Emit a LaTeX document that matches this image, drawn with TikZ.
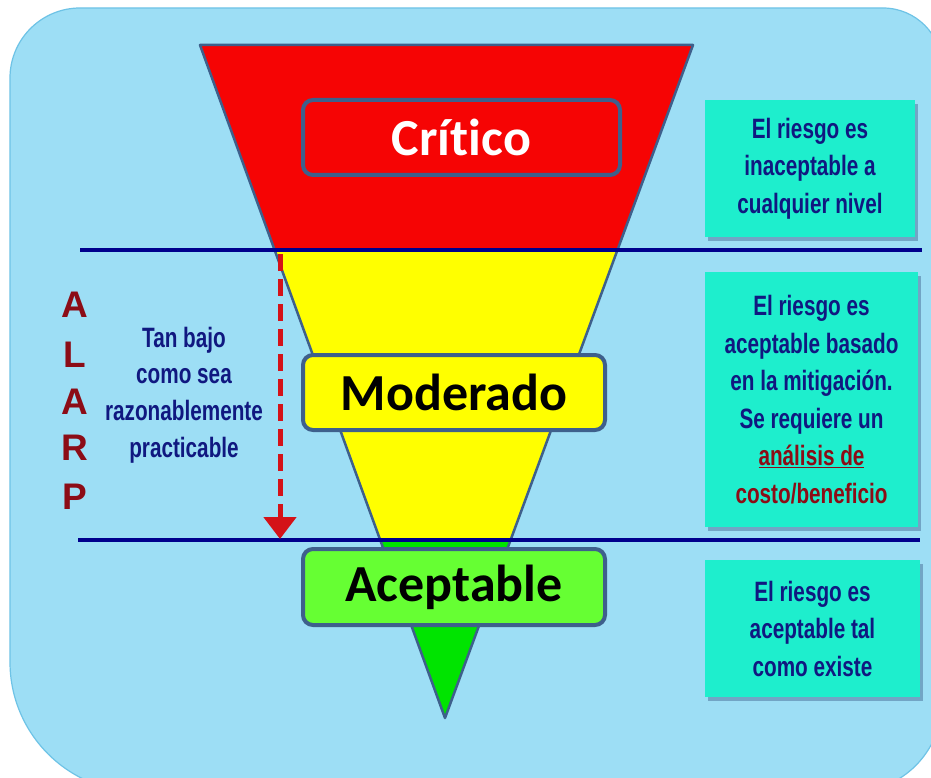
\documentclass[tikz,border=0pt]{standalone}
\usepackage{fontspec}
\setmainfont{Carlito}[Ligatures={NoCommon}]
\newfontfamily\narrowfont[FakeStretch=0.74]{Liberation Sans}
\newfontfamily\alarpfont{Liberation Sans}
\usetikzlibrary{calc,arrows.meta,shadows}

\definecolor{bgblue}{RGB}{157,222,245}
\definecolor{bgedge}{RGB}{110,195,230}
\definecolor{edgeblue}{RGB}{62,96,140}
\definecolor{critred}{RGB}{246,4,4}
\definecolor{modyellow}{RGB}{255,255,0}
\definecolor{okgreen}{RGB}{0,228,0}
\definecolor{labgreen}{RGB}{102,255,51}
\definecolor{navyline}{RGB}{0,0,140}
\definecolor{boxcyan}{RGB}{30,238,205}
\definecolor{textnavy}{RGB}{16,24,128}
\definecolor{darkred}{RGB}{140,12,22}
\definecolor{arrred}{RGB}{212,18,24}

\begin{document}
\begin{tikzpicture}[x=1pt, y=-1pt,
  etiqueta/.style={draw=edgeblue, line width=4pt, rounded corners=10pt,
    minimum width=302pt, minimum height=75pt, inner sep=0pt,
    font=\fontsize{52}{52}\selectfont\bfseries},
  caja/.style={fill=boxcyan, inner sep=0pt, align=center, text=textnavy,
    drop shadow={shadow xshift=3pt, shadow yshift=-4pt, fill=edgeblue, opacity=0.45},
    font=\narrowfont\fontsize{28}{37.5}\selectfont\bfseries},
  franja/.style={draw=navyline, line width=4pt}]

\useasboundingbox (0,0) rectangle (931,778);
\fill[white] (0,0) rectangle (931,778);

% fondo azul
\fill[bgblue, draw=bgedge, line width=1.2pt] (10,662) -- (10,78) arc[start angle=180, end angle=270, radius=70]
  -- (883,8) arc[start angle=270, end angle=360, radius=59]
  -- (942,702) arc[start angle=0, end angle=90, radius=90]
  -- (140,792) arc[start angle=90, end angle=180, radius=130] -- cycle;

% embudo
\coordinate (tl) at (200,45);
\coordinate (tr) at (693,45);
\coordinate (ap) at (445,718);
\coordinate (l1) at ($(tl)!0.3046!(ap)$);
\coordinate (r1) at ($(tr)!0.3046!(ap)$);
\coordinate (l2) at ($(tl)!0.7355!(ap)$);
\coordinate (r2) at ($(tr)!0.7355!(ap)$);
\fill[critred] (tl) -- (tr) -- (r1) -- (l1) -- cycle;
\fill[modyellow] (l1) -- (r1) -- (r2) -- (l2) -- cycle;
\fill[okgreen] (l2) -- (r2) -- (ap) -- cycle;
\draw[edgeblue, line width=2.5pt, line join=round] (tl) -- (tr) -- (ap) -- cycle;

% franjas
\coordinate (a1) at (80,250);
\coordinate (b1) at (922,250);
\coordinate (a2) at (78,540);
\coordinate (b2) at (920,540);
\draw[franja] (a1) -- (b1);
\draw[franja] (a2) -- (b2);

% ALARP
\coordinate (f1) at (280,254);
\coordinate (f2) at (280,539);
\draw[arrred, line width=5pt, dash pattern=on 17pt off 8pt,
  -{Triangle[width=32pt,length=22pt]}] (f1) -- (f2);
\foreach \letra/\y in {A/305, L/355, A/402, R/448, P/497}
  \node[text=darkred, font=\alarpfont\fontsize{37}{37}\selectfont\bfseries] (alarp\y) at (75,\y) {\letra};
\node[align=center, text=textnavy, font=\narrowfont\fontsize{28}{36.7}\selectfont\bfseries] (tanbajo) at (184,395)
  {Tan bajo\\como sea\\razonablemente\\practicable};

% etiquetas del embudo
\node[etiqueta, fill=critred, text=white, minimum width=317pt] (critico) at (461.5,137.5) {Crítico};
\node[etiqueta, fill=modyellow] (moderado) at (454,392.5) {Moderado};
\node[etiqueta, fill=labgreen, minimum height=76pt] (aceptable) at (454,587) {Aceptable};

% cajas de la derecha
\node[caja, minimum width=210pt, minimum height=137pt] (caja1) at (810,168.5)
  {El riesgo es\\inaceptable a\\cualquier nivel};
\node[caja, minimum width=213pt, minimum height=255pt] (caja2) at (811.5,399.5)
  {El riesgo es\\aceptable basado\\en la mitigación.\\Se requiere un\\\textcolor{darkred}{\underline{análisis de}}\\\textcolor{darkred}{costo/beneficio}};
\node[caja, minimum width=215pt, minimum height=137pt] (caja3) at (812.5,628.5)
  {El riesgo es\\aceptable tal\\como existe};
\end{tikzpicture}
\end{document}
